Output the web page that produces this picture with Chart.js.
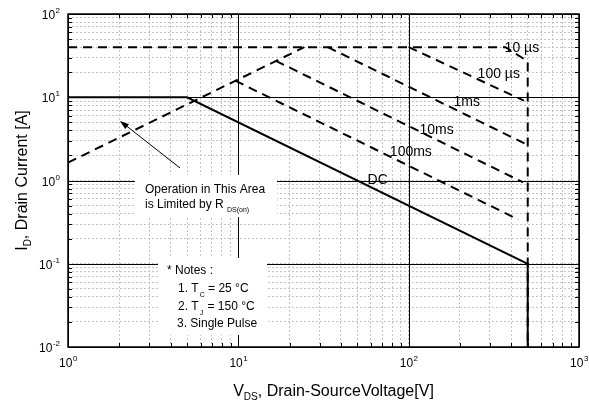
<!DOCTYPE html>
<html>
<head>
<meta charset="utf-8">
<script src="https://cdn.jsdelivr.net/npm/chart.js@4.4.1/dist/chart.umd.min.js"></script>
<style>
  html, body { margin: 0; padding: 0; background: #fff; }
  #wrap { width: 589px; height: 407px; position: relative; }
</style>
</head>
<body>
<div id="wrap"><canvas id="soa" width="589" height="407"></canvas></div>
<script>
// safe operating area
const rdsV = [1, 24.4];
const rdsI = [1.64, 40];
const us10V = [1, 370, 500, 500];
const us10I = [40, 40, 27, 0.01];
const us100V = [100, 475];
const us100I = [40, 9.1];
const ms1V = [33.5, 495];
const ms1I = [40, 2.7];
const ms10V = [16.6, 470];
const ms10I = [27.4, 0.95];
const ms100V = [9.6, 440];
const ms100I = [15.8, 0.34];
const dcV = [1, 5, 500, 500];
const dcI = [10, 10, 0.1, 0.01];

// curve names and where they sit (V, I)
const curveLabels = ['10 µs', '100 µs', '1ms', '10ms', '100ms', 'DC'];
const curveLabelV = [462, 338, 219, 146, 103, 65.8];
const curveLabelI = [38.9, 18.9, 8.7, 4.0, 2.17, 1.0];

const xDecades = [1, 10, 100, 1000];
const yDecades = [0.01, 0.1, 1, 10, 100];
const xExp = ['0', '1', '2', '3'];
const yExp = ['-2', '-1', '0', '1', '2'];

const notesLines = ['* Notes :', '1. T', '2. T', '3. Single Pulse'];

const FONT = '"Liberation Sans", Arial, Helvetica, sans-serif';

function minorTicks(lo, hi) {
    let out = [];
    for (let d = lo; d < hi; d *= 10) {
        for (let k = 1; k < 10; k++) out.push(+(d * k).toPrecision(3));
    }
    out.push(hi);
    return out;
}

function pts(xs, ys) {
    return xs.map((v, i) => ({ x: v, y: ys[i] }));
}

function curve(xs, ys, dashed, width) {
    return {
        data: pts(xs, ys),
        borderColor: '#000',
        borderWidth: width,
        borderDash: dashed ? [9, 6] : [],
        pointRadius: 0,
        fill: false,
        tension: 0
    };
}

function txt(ctx, s, x, y, size, align) {
    ctx.font = size + 'px ' + FONT;
    ctx.textAlign = align || 'left';
    ctx.fillText(s, x, y);
    return ctx.measureText(s).width;
}

const drawExtras = {
    id: 'drawExtras',
    beforeDatasetsDraw(chart) {
        const ctx = chart.ctx;
        const a = chart.chartArea;
        const sx = chart.scales.x, sy = chart.scales.y;
        ctx.save();
        ctx.strokeStyle = '#000';
        ctx.lineWidth = 1;
        // major grid lines, solid
        xDecades.forEach(v => {
            let px = Math.round(sx.getPixelForValue(v)) + 0.5;
            ctx.beginPath(); ctx.moveTo(px, a.top); ctx.lineTo(px, a.bottom); ctx.stroke();
        });
        yDecades.forEach(v => {
            let py = Math.round(sy.getPixelForValue(v)) + 0.5;
            ctx.beginPath(); ctx.moveTo(a.left, py); ctx.lineTo(a.right, py); ctx.stroke();
        });
        // small inner ticks on all sides
        minorTicks(1, 1000).forEach(v => {
            let px = Math.round(sx.getPixelForValue(v)) + 0.5;
            ctx.beginPath();
            ctx.moveTo(px, a.bottom); ctx.lineTo(px, a.bottom - 4);
            ctx.moveTo(px, a.top); ctx.lineTo(px, a.top + 4);
            ctx.stroke();
        });
        minorTicks(0.01, 100).forEach(v => {
            let py = Math.round(sy.getPixelForValue(v)) + 0.5;
            ctx.beginPath();
            ctx.moveTo(a.left, py); ctx.lineTo(a.left + 4, py);
            ctx.moveTo(a.right, py); ctx.lineTo(a.right - 4, py);
            ctx.stroke();
        });
        ctx.restore();
    },
    afterDatasetsDraw(chart) {
        const ctx = chart.ctx;
        const a = chart.chartArea;
        const sx = chart.scales.x, sy = chart.scales.y;
        ctx.save();

        // frame
        ctx.strokeStyle = '#000';
        ctx.lineWidth = 1.5;
        ctx.strokeRect(a.left, a.top, a.right - a.left, a.bottom - a.top);

        ctx.fillStyle = '#000';
        ctx.textBaseline = 'alphabetic';

        // tick labels 10^n
        xDecades.forEach((v, i) => {
            let px = sx.getPixelForValue(v);
            ctx.font = '12px ' + FONT;
            let w1 = ctx.measureText('10').width;
            ctx.font = '8px ' + FONT;
            let w2 = ctx.measureText(xExp[i]).width;
            let x0 = px - (w1 + w2) / 2;
            txt(ctx, '10', x0, a.bottom + 20, 12);
            txt(ctx, xExp[i], x0 + w1 + 0.5, a.bottom + 14, 8);
        });
        yDecades.forEach((v, i) => {
            let py = sy.getPixelForValue(v);
            ctx.font = '8px ' + FONT;
            let w2 = ctx.measureText(yExp[i]).width;
            ctx.font = '12px ' + FONT;
            let w1 = ctx.measureText('10').width;
            let x1 = a.left - 8;
            txt(ctx, '10', x1 - w2 - w1 - 0.5, py + 5, 12);
            txt(ctx, yExp[i], x1 - w2, py - 1, 8);
        });

        // axis titles with subscripts
        ctx.font = '16px ' + FONT;
        let t1 = ctx.measureText('V').width;
        let t3 = ctx.measureText(', Drain-SourceVoltage[V]').width;
        ctx.font = '10px ' + FONT;
        let t2 = ctx.measureText('DS').width;
        let xc = (a.left + a.right) / 2 + 10;
        let xs = xc - (t1 + t2 + t3) / 2;
        txt(ctx, 'V', xs, 396, 16);
        txt(ctx, 'DS', xs + t1, 400, 10);
        txt(ctx, ', Drain-SourceVoltage[V]', xs + t1 + t2, 396, 16);

        ctx.save();
        ctx.translate(27, (a.top + a.bottom) / 2);
        ctx.rotate(-Math.PI / 2);
        ctx.font = '16px ' + FONT;
        let r1 = ctx.measureText('I').width;
        let r3 = ctx.measureText(', Drain Current [A]').width;
        ctx.font = '10px ' + FONT;
        let r2 = ctx.measureText('D').width;
        let rs = -(r1 + r2 + r3) / 2;
        txt(ctx, 'I', rs, 0, 16);
        txt(ctx, 'D', rs + r1, 4, 10);
        txt(ctx, ', Drain Current [A]', rs + r1 + r2, 0, 16);
        ctx.restore();

        // curve names
        ctx.textBaseline = 'middle';
        curveLabels.forEach((s, i) => {
            txt(ctx, s, sx.getPixelForValue(curveLabelV[i]), sy.getPixelForValue(curveLabelI[i]), 14, 'center');
        });
        ctx.textBaseline = 'alphabetic';

        // R_DS(on) note box and arrow
        ctx.fillStyle = '#fff';
        ctx.fillRect(135, 175, 142, 42);
        ctx.fillStyle = '#000';
        txt(ctx, 'Operation in This Area', 145, 193, 12);
        let w = txt(ctx, 'is Limited by R ', 145, 208, 12);
        txt(ctx, 'DS(on)', 145 + w, 212, 7);

        ctx.strokeStyle = '#000';
        ctx.lineWidth = 1;
        ctx.beginPath(); ctx.moveTo(180, 168); ctx.lineTo(124, 124); ctx.stroke();
        let ang = Math.atan2(124 - 168, 124 - 180);
        ctx.beginPath();
        ctx.moveTo(120, 121);
        ctx.lineTo(120 - 9 * Math.cos(ang) + 3 * Math.sin(ang), 121 - 9 * Math.sin(ang) - 3 * Math.cos(ang));
        ctx.lineTo(120 - 9 * Math.cos(ang) - 3 * Math.sin(ang), 121 - 9 * Math.sin(ang) + 3 * Math.cos(ang));
        ctx.closePath();
        ctx.fill();

        // notes box
        ctx.fillStyle = '#fff';
        ctx.fillRect(158, 258, 109, 77);
        ctx.fillStyle = '#000';
        txt(ctx, notesLines[0], 167, 274, 12);
        let n1 = txt(ctx, notesLines[1], 178, 292, 12);
        let n2 = txt(ctx, 'C', 178 + n1 + 1, 297, 7);
        txt(ctx, ' = 25 °C', 178 + n1 + n2 + 1, 292, 12);
        let m1 = txt(ctx, notesLines[2], 178, 310, 12);
        let m2 = txt(ctx, 'J', 178 + m1 + 1, 315, 7);
        txt(ctx, ' = 150 °C', 178 + m1 + m2 + 2, 310, 12);
        txt(ctx, notesLines[3], 177, 327, 12);

        ctx.restore();
    }
};

const ctx = document.getElementById('soa').getContext('2d');
const chart = new Chart(ctx, {
    type: 'line',
    data: {
        datasets: [
            curve(rdsV, rdsI, true, 2),
            curve(us10V, us10I, true, 2),
            curve(us100V, us100I, true, 2),
            curve(ms1V, ms1I, true, 2),
            curve(ms10V, ms10I, true, 2),
            curve(ms100V, ms100I, true, 2),
            curve(dcV, dcI, false, 2)
        ]
    },
    options: {
        responsive: false,
        animation: false,
        layout: { padding: { left: 68, right: 10, top: 14, bottom: 60 } },
        plugins: { legend: { display: false }, tooltip: { enabled: false } },
        scales: {
            x: {
                type: 'logarithmic',
                min: 1,
                max: 1000,
                afterBuildTicks: s => { s.ticks = minorTicks(1, 1000).map(v => ({ value: v })); },
                ticks: { display: false },
                grid: { color: '#c4c4c4', lineWidth: 1, drawTicks: false, tickLength: 0 },
                border: { display: false, dash: [2, 2] }
            },
            y: {
                type: 'logarithmic',
                min: 0.01,
                max: 100,
                afterBuildTicks: s => { s.ticks = minorTicks(0.01, 100).map(v => ({ value: v })); },
                ticks: { display: false },
                grid: { color: '#c4c4c4', lineWidth: 1, drawTicks: false, tickLength: 0 },
                border: { display: false, dash: [2, 2] }
            }
        }
    },
    plugins: [drawExtras]
});
</script>
</body>
</html>
